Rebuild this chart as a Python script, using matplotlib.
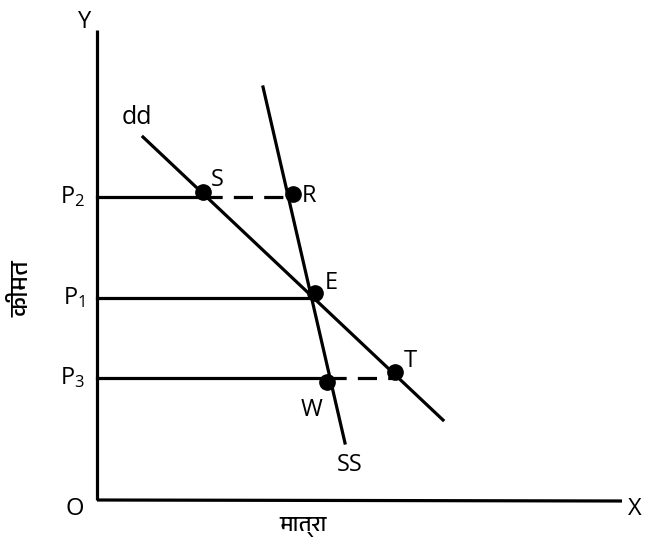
import matplotlib
matplotlib.use('Agg')
import matplotlib.pyplot as plt
from matplotlib import font_manager
from matplotlib.ft2font import FT2Font

# demand (dd) and supply (SS) curves, given by their end points (quantity, price)
demand_q = [46, 346]
demand_p = [363, 80]
supply_q = [166, 248]
supply_p = [413, 57]

# price levels on the Y axis
price_names = ['P$_2$', 'P$_1$', 'P$_3$']
price_values = [303, 202, 122]

# marked points: name, quantity, price
point_names = ['S', 'R', 'E', 'T', 'W']
point_q = [106, 196, 218, 298, 230]
point_p = [308, 306, 207, 128, 118]

# solid guide from the axis to a point, then dashed on to another point
solid_to = {'P$_2$': 'S', 'P$_1$': 'E', 'P$_3$': 'W'}
dashed_to = {'P$_2$': ('S', 'R'), 'P$_3$': ('W', 'T')}


def devanagari_font():
    for f in font_manager.fontManager.ttflist:
        if 'Devanagari' in f.name:
            return f.name
    for f in font_manager.fontManager.ttflist:
        try:
            if 0x0915 in FT2Font(f.fname).get_charmap():
                return f.name
        except Exception:
            pass
    return 'DejaVu Sans'


hindi = devanagari_font()
plt.rcParams['font.family'] = ['Open Sans', 'DejaVu Sans']
plt.rcParams['mathtext.fontset'] = 'custom'
plt.rcParams['mathtext.rm'] = 'Open Sans'
plt.rcParams['mathtext.it'] = 'Open Sans'

fig = plt.figure(figsize=(6.46, 5.40), dpi=100)
ax = fig.add_axes([0, 0, 1, 1])
ax.set_xlim(-97, 549)
ax.set_ylim(-40, 500)
ax.axis('off')

lw = 2.3
pts = {n: (q, p) for n, q, p in zip(point_names, point_q, point_p)}

# axes
ax.plot([0, 0], [0, 470], color='black', lw=lw, solid_capstyle='butt')
ax.plot([0, 525], [0, -1], color='black', lw=lw, solid_capstyle='butt')

# curves
ax.plot(demand_q, demand_p, color='black', lw=lw)
ax.plot(supply_q, supply_p, color='black', lw=lw)

# price guides
for name, price in zip(price_names, price_values):
    end = pts[solid_to[name]]
    ax.plot([0, end[0]], [price, price], color='black', lw=lw)
    ax.text(-12, price, name, fontsize=17, ha='right', va='center')
    if name in dashed_to:
        a, b = dashed_to[name]
        ax.plot([pts[a][0], pts[b][0]], [price, price],
                color='black', lw=lw, dashes=(6, 3.5))

# points and their letters
ax.plot(point_q, point_p, 'o', color='black', ms=11)
offsets = {'S': (8, 12), 'R': (9, -2), 'E': (10, 10), 'T': (9, 11), 'W': (-4, -28)}
for n in point_names:
    dx, dy = offsets[n]
    ha = 'right' if n == 'W' else 'left'
    ax.text(pts[n][0] + dx, pts[n][1] + dy, n, fontsize=17, ha=ha, va='center')

ax.text(25, 383, 'dd', fontsize=18, ha='left', va='center')
ax.text(240, 35, 'SS', fontsize=17, ha='left', va='center')
ax.text(-12, 478, 'Y', fontsize=17, ha='center', va='center')
ax.text(-22, -9, 'O', fontsize=17, ha='center', va='center')
ax.text(538, -9, 'X', fontsize=17, ha='center', va='center')

ax.text(-75, 211, 'कीमत', fontsize=18, rotation=90, ha='center', va='center',
        family=[hindi, 'DejaVu Sans'])
ax.text(206, -27, 'मात्रा', fontsize=16, ha='center', va='center',
        family=[hindi, 'DejaVu Sans'])

fig.savefig('out.png', dpi=100, facecolor='white')
